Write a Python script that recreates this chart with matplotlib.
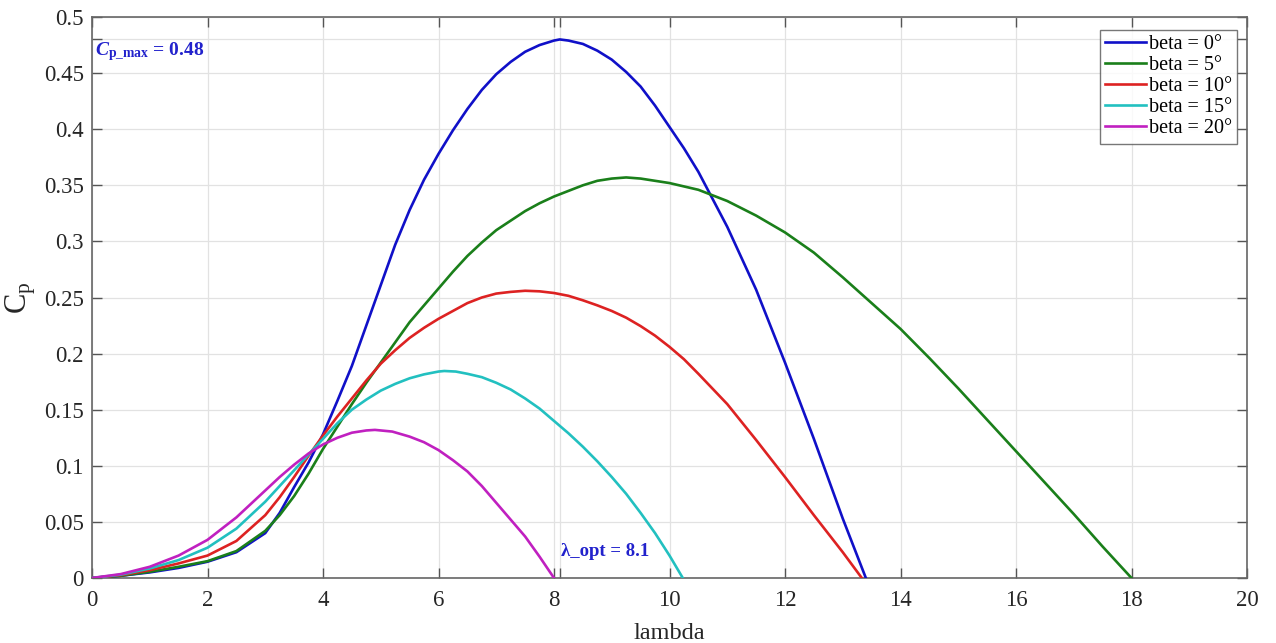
import matplotlib
matplotlib.use("Agg")
import matplotlib.pyplot as plt

# ---- data ----
lam_b0 = [0, 0.5, 1, 1.5, 2, 2.5, 3, 3.25, 3.5, 3.75, 4, 4.25, 4.5, 4.75, 5, 5.25,
          5.5, 5.75, 6, 6.25, 6.5, 6.75, 7, 7.25, 7.5, 7.75, 8, 8.1, 8.25, 8.5, 8.75,
          9, 9.25, 9.5, 9.75, 10, 10.25, 10.5, 11, 11.5, 12, 12.5, 13, 13.4]
cp_b0 = [0, 0.002, 0.005, 0.009, 0.0145, 0.023, 0.040, 0.058, 0.081, 0.103, 0.128,
         0.158, 0.189, 0.225, 0.261, 0.297, 0.328, 0.355, 0.378, 0.399, 0.418, 0.435,
         0.449, 0.460, 0.469, 0.475, 0.479, 0.480, 0.479, 0.476, 0.470, 0.462, 0.451,
         0.438, 0.421, 0.402, 0.383, 0.362, 0.313, 0.257, 0.192, 0.124, 0.053, 0.0]

lam_b5 = [0, 0.5, 1, 1.5, 2, 2.5, 3, 3.25, 3.5, 3.75, 4, 4.25, 4.5, 4.75, 5, 5.25,
          5.5, 5.75, 6, 6.25, 6.5, 6.75, 7, 7.5, 7.75, 8, 8.25, 8.5, 8.75, 9, 9.25,
          9.5, 9.75, 10, 10.25, 10.5, 11, 11.5, 12, 12.5, 13, 13.5, 14, 14.5, 15,
          15.5, 16, 16.5, 17, 17.5, 18]
cp_b5 = [0, 0.002, 0.0055, 0.010, 0.015, 0.024, 0.042, 0.056, 0.073, 0.093, 0.115,
         0.135, 0.155, 0.174, 0.192, 0.210, 0.228, 0.243, 0.258, 0.273, 0.287, 0.299,
         0.310, 0.327, 0.334, 0.340, 0.345, 0.350, 0.354, 0.356, 0.357, 0.356, 0.354,
         0.352, 0.349, 0.346, 0.336, 0.323, 0.308, 0.290, 0.268, 0.245, 0.222, 0.196,
         0.169, 0.141, 0.113, 0.085, 0.057, 0.028, 0.0]

lam_b10 = [0, 0.5, 1, 1.5, 2, 2.5, 3, 3.25, 3.5, 3.75, 4, 4.25, 4.5, 4.75, 5, 5.25,
           5.5, 5.75, 6, 6.25, 6.5, 6.75, 7, 7.25, 7.5, 7.75, 8, 8.25, 8.5, 8.75, 9,
           9.25, 9.5, 9.75, 10, 10.25, 10.5, 11, 11.5, 12, 12.5, 13, 13.33]
cp_b10 = [0, 0.0025, 0.007, 0.013, 0.020, 0.033, 0.056, 0.072, 0.090, 0.109, 0.127,
          0.144, 0.160, 0.176, 0.191, 0.203, 0.214, 0.223, 0.231, 0.238, 0.245, 0.250,
          0.2535, 0.255, 0.256, 0.2555, 0.254, 0.2515, 0.2475, 0.2430, 0.238, 0.232,
          0.2245, 0.216, 0.206, 0.195, 0.182, 0.155, 0.123, 0.090, 0.056, 0.023, 0.0]

lam_b15 = [0, 0.5, 1, 1.5, 2, 2.5, 3, 3.25, 3.5, 3.75, 4, 4.25, 4.5, 4.75, 5, 5.25,
           5.5, 5.75, 6, 6.1, 6.3, 6.5, 6.75, 7, 7.25, 7.5, 7.75, 8, 8.25, 8.5, 8.75,
           9, 9.25, 9.5, 9.75, 10, 10.23]
cp_b15 = [0, 0.003, 0.0085, 0.016, 0.027, 0.044, 0.068, 0.082, 0.096, 0.110, 0.124,
          0.138, 0.150, 0.159, 0.167, 0.173, 0.178, 0.1815, 0.184, 0.1845, 0.184,
          0.182, 0.179, 0.174, 0.168, 0.160, 0.151, 0.140, 0.129, 0.117, 0.104,
          0.090, 0.075, 0.058, 0.040, 0.020, 0.0]

lam_b20 = [0, 0.5, 1, 1.5, 2, 2.5, 2.75, 3, 3.25, 3.5, 3.75, 4, 4.25, 4.5, 4.75,
           4.9, 5.2, 5.5, 5.75, 6, 6.25, 6.5, 6.75, 7, 7.25, 7.5, 7.75, 8]
cp_b20 = [0, 0.0035, 0.010, 0.020, 0.034, 0.054, 0.066, 0.078, 0.090, 0.101, 0.111,
          0.119, 0.125, 0.1295, 0.1315, 0.132, 0.1305, 0.126, 0.121, 0.114, 0.105,
          0.095, 0.082, 0.067, 0.052, 0.037, 0.019, 0.0]

labels = ["beta = 0°", "beta = 5°", "beta = 10°", "beta = 15°", "beta = 20°"]
colors = ["#1010c8", "#1a7f1a", "#dd2222", "#22c0c0", "#c020c0"]

x_ticks = [0, 2, 4, 6, 8, 8.1, 10, 12, 14, 16, 18, 20]
x_ticklabels = ["0", "2", "4", "6", "8", "", "10", "12", "14", "16", "18", "20"]
y_ticks = [0, 0.05, 0.1, 0.15, 0.2, 0.25, 0.3, 0.35, 0.4, 0.45, 0.48, 0.5]
y_ticklabels = ["0", "0.05", "0.1", "0.15", "0.2", "0.25", "0.3", "0.35", "0.4",
                "0.45", "", "0.5"]

cp_max = 0.48
lam_opt = 8.1

# ---- styling ----
plt.rcParams["font.family"] = ["Liberation Serif", "DejaVu Serif"]
plt.rcParams["mathtext.fontset"] = "custom"
plt.rcParams["mathtext.rm"] = "Liberation Serif"
plt.rcParams["mathtext.it"] = "Liberation Serif:italic"
plt.rcParams["mathtext.bf"] = "Liberation Serif:bold"
plt.rcParams["mathtext.bfit"] = "Liberation Serif:italic:bold"

fig = plt.figure(figsize=(12.76, 6.43), dpi=100)
ax = fig.add_axes([92 / 1276, 65 / 643, 1155 / 1276, 561 / 643])

series = [(lam_b0, cp_b0), (lam_b5, cp_b5), (lam_b10, cp_b10),
          (lam_b15, cp_b15), (lam_b20, cp_b20)]
for (lx, cy), lab, col in zip(series, labels, colors):
    ax.plot(lx, cy, color=col, lw=1.9, label=lab, zorder=3,
            solid_joinstyle="round")

ax.set_xlim(0, 20)
ax.set_ylim(0, 0.5)
ax.set_xticks(x_ticks)
ax.set_xticklabels(x_ticklabels)
ax.set_yticks(y_ticks)
ax.set_yticklabels(y_ticklabels)
ax.grid(True, color="#e2e2e2", lw=0.9, zorder=0)
ax.set_axisbelow(True)
ax.tick_params(direction="in", length=7, width=1.0, colors="#555555",
               labelcolor="#262626", labelsize=16.5, top=True, right=True)
ax.tick_params(axis="x", pad=9)
ax.tick_params(axis="y", pad=6)
for sp in ax.spines.values():
    sp.set_color("#666666")
    sp.set_linewidth(1.2)

ax.set_xlabel("lambda", fontsize=17.5, color="#262626", labelpad=8)
ax.set_ylabel(r"$\mathrm{C_p}$", fontsize=22, color="#262626", labelpad=4)

ax.text(0.06, cp_max - 0.011, r"$\mathbfit{C}_{\mathbf{p\_max}}$ = 0.48",
        color="#2222cc", fontsize=14, fontweight="bold", va="center", ha="left")
ax.text(lam_opt + 0.02, 0.024, "λ_opt = 8.1", color="#2222cc", fontsize=13.5,
        fontweight="bold", va="center", ha="left")

leg = ax.legend(loc="upper right", bbox_to_anchor=(0.9913, 0.977), fontsize=14.5,
                frameon=True, fancybox=False, handlelength=2.0, handletextpad=0.15,
                borderpad=0.25, labelspacing=0.1, borderaxespad=0)
leg.get_frame().set_edgecolor("#555555")
leg.get_frame().set_linewidth(1.0)

fig.savefig("out.png", dpi=100)
